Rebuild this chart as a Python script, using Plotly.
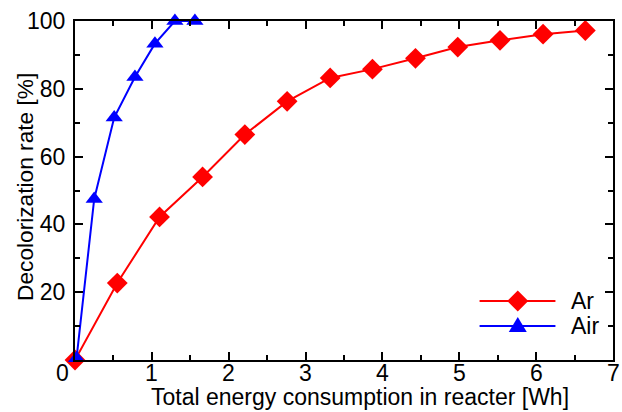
import plotly.graph_objects as go

# Data
ar_x = [0.0, 0.55, 1.10, 1.66, 2.21, 2.76, 3.32, 3.87, 4.43, 4.98, 5.53, 6.09, 6.64]
ar_y = [0.0, 22.7, 42.2, 54.0, 66.5, 76.3, 83.2, 85.8, 89.0, 92.3, 94.3, 96.1, 97.2]
air_x = [0.02, 0.25, 0.51, 0.78, 1.04, 1.30, 1.56]
air_y = [0.5, 47.5, 71.5, 83.5, 93.3, 100.0, 100.0]
x_ticks = [0, 1, 2, 3, 4, 5, 6, 7]
y_ticks = [20, 40, 60, 80, 100]
series_names = ["Ar", "Air"]

FONT = "Liberation Sans, Arial, sans-serif"
RED = "#ff0000"
BLUE = "#0000ff"
TICKSIZE = 23

fig = go.Figure()
fig.add_trace(go.Scatter(x=ar_x, y=ar_y, mode="lines+markers", name=series_names[0],
                         line=dict(color=RED, width=2),
                         marker=dict(symbol="diamond", size=16, color=RED),
                         cliponaxis=False, showlegend=False))
fig.add_trace(go.Scatter(x=air_x, y=air_y, mode="lines+markers", name=series_names[1],
                         line=dict(color=BLUE, width=2),
                         marker=dict(symbol="triangle-up", size=15, color=BLUE),
                         cliponaxis=False, showlegend=False))

axis_common = dict(showline=True, linecolor="black", linewidth=2, mirror="ticks",
                   ticks="inside", ticklen=8, tickwidth=1.5, tickcolor="black",
                   showgrid=False, zeroline=False,
                   tickfont=dict(family=FONT, size=TICKSIZE, color="black"))

fig.update_xaxes(range=[0, 7], tickvals=x_ticks, showticklabels=False,
                 minor=dict(ticks="inside", ticklen=5, dtick=0.5, tickwidth=1.5, tickcolor="black"),
                 **axis_common)
fig.update_yaxes(range=[0, 100], tickvals=y_ticks, ticktext=[str(v) for v in y_ticks],
                 ticklabelstandoff=3,
                 minor=dict(ticks="inside", ticklen=5, dtick=10, tickwidth=1.5, tickcolor="black"),
                 **axis_common)

annotations = []
# x tick labels placed on the x scale
for v in x_ticks:
    annotations.append(dict(text=str(v), x=v, y=0, xref="x", yref="y",
                            xshift=(-13 if v == 0 else 0), yshift=-13, showarrow=False,
                            font=dict(family=FONT, size=TICKSIZE, color="black"),
                            xanchor="center", yanchor="middle"))
annotations += [
    dict(text="Total energy consumption in reacter [Wh]", x=0.53, y=0, xref="paper", yref="paper",
         yshift=-52, showarrow=False, font=dict(family=FONT, size=23, color="black"),
         xanchor="center", yanchor="bottom"),
    dict(text="Decolorization rate [%]", x=-0.092, y=0.509, xref="paper", yref="paper", textangle=-90,
         showarrow=False, font=dict(family=FONT, size=22.7, color="black"), xanchor="center", yanchor="middle"),
]

# Custom legend
leg = [(series_names[0], 0.174, RED, "M -10.5 0 L 0 10.5 L 10.5 0 L 0 -10.5 Z"),
       (series_names[1], 0.100, BLUE, "M -9 -6 L 9 -6 L 0 9 Z")]
shapes = []
for name, yp, col, path in leg:
    shapes.append(dict(type="line", xref="paper", yref="paper", x0=0.752, x1=0.893, y0=yp, y1=yp,
                       line=dict(color=col, width=2)))
    shapes.append(dict(type="path", xref="paper", yref="paper", xsizemode="pixel", ysizemode="pixel",
                       xanchor=0.823, yanchor=yp, path=path, fillcolor=col, line=dict(color=col, width=0)))
    annotations.append(dict(text=name, x=0.919, y=yp, xref="paper", yref="paper", showarrow=False,
                            xanchor="left", yanchor="middle", font=dict(family=FONT, size=TICKSIZE, color="black")))

fig.update_layout(width=622, height=412, margin=dict(l=75, r=7, t=21, b=52),
                  plot_bgcolor="white", paper_bgcolor="white",
                  annotations=annotations, shapes=shapes, showlegend=False)

fig.write_html("out.html")
